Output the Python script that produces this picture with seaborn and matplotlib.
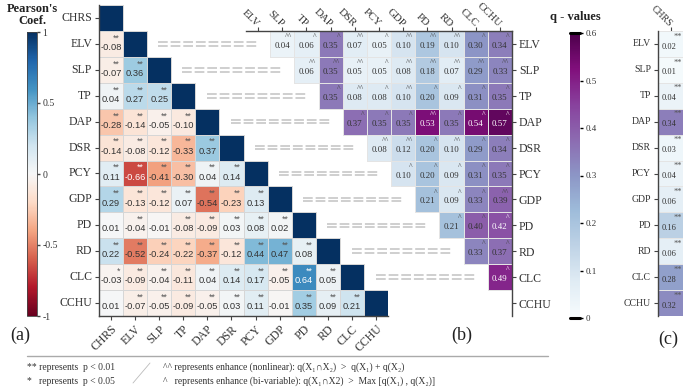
import numpy as np
import pandas as pd
import matplotlib
matplotlib.use("Agg")
import matplotlib.pyplot as plt
import matplotlib.colors as mcolors
import seaborn as sns

# ===== Data =====
variables = ["CHRS", "ELV", "SLP", "TP", "DAP", "DSR", "PCY", "GDP", "PD", "RD", "CLC", "CCHU"]

# (a) Pearson coefficients, lower triangle (row i, columns 0..i-1)
pearson_rows = [
    [-0.08],
    [-0.07, 0.36],
    [0.04, 0.27, 0.25],
    [-0.28, -0.14, -0.05, -0.10],
    [-0.14, -0.08, -0.12, -0.33, 0.37],
    [0.11, -0.66, -0.41, -0.30, 0.04, 0.14],
    [0.29, -0.13, -0.12, 0.07, -0.54, -0.23, 0.13],
    [0.01, -0.04, -0.01, -0.08, -0.09, 0.03, 0.08, 0.02],
    [0.22, -0.52, -0.24, -0.22, -0.37, -0.12, 0.44, 0.47, 0.08],
    [-0.03, -0.09, -0.04, -0.11, 0.04, 0.14, 0.17, -0.05, 0.64, 0.05],
    [0.01, -0.07, -0.05, -0.09, -0.05, 0.03, 0.11, -0.01, 0.35, 0.09, 0.21],
]
pearson_sig = [
    ["**"],
    ["**", "**"],
    ["**"] * 3,
    ["**"] * 4,
    ["**"] * 5,
    ["**"] * 6,
    ["**"] * 7,
    ["", "**", "", "**", "**", "**", "**", "**"],
    ["**"] * 9,
    ["*"] + ["**"] * 9,
    ["", "**", "**", "**", "**", "**", "**", "", "**", "**", "**"],
]

# (b) interaction q-values, upper triangle (row i, columns i+1..)
q_vars = variables[1:]
q_rows = [
    [0.04, 0.06, 0.35, 0.07, 0.05, 0.10, 0.19, 0.10, 0.30, 0.34],
    [0.06, 0.35, 0.05, 0.05, 0.08, 0.18, 0.07, 0.29, 0.33],
    [0.35, 0.08, 0.08, 0.10, 0.20, 0.09, 0.31, 0.35],
    [0.37, 0.35, 0.35, 0.53, 0.35, 0.54, 0.57],
    [0.08, 0.12, 0.20, 0.10, 0.29, 0.34],
    [0.10, 0.20, 0.09, 0.31, 0.35],
    [0.21, 0.09, 0.33, 0.39],
    [0.21, 0.40, 0.42],
    [0.33, 0.37],
    [0.49],
]
q_marks = [
    ["^^", "^", "^", "^^", "^", "^^", "^^", "^^", "^", "^"],
    ["^^", "^^", "^^", "^", "^^", "^^", "^^", "^^", "^^"],
    ["^", "^^", "^", "^^", "^", "^", "^", "^"],
    ["^", "^", "^", "^^", "^", "^", "^"],
    ["^^", "^^", "^", "^^", "^", "^"],
    ["^", "^", "^", "^", "^"],
    ["^", "^", "^", "^^"],
    ["^", "^", "^"],
    ["^", "^"],
    ["^"],
]

# (c) single-factor q-values of CHRS
q_chrs = [0.02, 0.01, 0.04, 0.34, 0.03, 0.04, 0.06, 0.16, 0.06, 0.28, 0.32]
q_chrs_sig = ["**"] * 11

# ===== Style =====
sns.set_theme(style="white")
plt.rcParams["font.family"] = ["Liberation Serif", "DejaVu Serif"]
plt.rcParams["axes.unicode_minus"] = False

W, H = 685, 387
fig = plt.figure(figsize=(6.85, 3.87), dpi=100)


def box(x0, y0, x1, y1):
    return [x0 / W, 1 - y1 / H, (x1 - x0) / W, (y1 - y0) / H]


def edges_only_on_data(ax, data, color):
    # keep cell borders only around cells that hold a value
    mesh = ax.collections[0]
    empty = np.isnan(np.asarray(data, dtype=float)).ravel()
    ec = np.tile(mcolors.to_rgba(color), (empty.size, 1))
    ec[empty] = (0, 0, 0, 0)
    mesh.set_edgecolor(ec)


ax_a = fig.add_axes(box(99, 5, 388, 316))
cax_a = fig.add_axes(box(27, 32, 37, 316))
ax_b = fig.add_axes(box(246, 31, 512, 316))
cax_b = fig.add_axes(box(570, 33, 580, 318))
ax_c = fig.add_axes(box(658, 31, 683, 316))

spine_col = "#444444"

# ===== (a) Pearson heatmap =====
n = len(variables)
corr = np.full((n, n), np.nan)
corr[0, 0] = 1.0
for i, row in enumerate(pearson_rows, start=1):
    corr[i, :i] = row
    corr[i, i] = 1.0
df_a = pd.DataFrame(corr, index=variables, columns=variables)

sns.heatmap(df_a, ax=ax_a, cmap="RdBu", vmin=-1, vmax=1, cbar_ax=cax_a,
            linewidths=0.6, linecolor="#d6d6d6")
edges_only_on_data(ax_a, corr, "#d6d6d6")
ax_a.set_facecolor("none")

for i, row in enumerate(pearson_rows, start=1):
    for j, v in enumerate(row):
        col = "white" if abs(v) > 0.6 else "#333333"
        ax_a.text(j + 0.5, i + 0.64, f"{v:.2f}", ha="center", va="center",
                  fontsize=6.7, family="Liberation Sans", color=col)
        s = pearson_sig[i - 1][j]
        if s:
            ax_a.text(j + 0.86, i + 0.1, s, ha="right", va="top", fontsize=6.3,
                      family="Liberation Sans",
                      color="white" if abs(v) > 0.6 else "#555555")

ax_a.set_xlabel("")
ax_a.set_ylabel("")
for side in ["left", "bottom"]:
    ax_a.spines[side].set_visible(True)
    ax_a.spines[side].set_color(spine_col)
    ax_a.spines[side].set_linewidth(1)
ax_a.tick_params(left=True, bottom=True, length=3, width=0.8, color=spine_col,
                 labelsize=8.5, labelcolor="#333333", pad=2)
ax_a.set_yticklabels(variables, rotation=0)
ax_a.set_xticklabels(variables, rotation=45, ha="right", rotation_mode="anchor")

cbar_a = ax_a.collections[0].colorbar
cbar_a.set_ticks([-1, -0.5, 0, 0.5, 1])
cbar_a.set_ticklabels(["-1", "-0.5", "0", "0.5", "1"])
cax_a.tick_params(right=True, length=2, width=1, labelsize=7, color=spine_col,
                  labelcolor="#333333", pad=2)
cbar_a.outline.set_linewidth(0.6)
cbar_a.outline.set_edgecolor(spine_col)

# ===== (b) interaction q-values =====
m = len(q_vars)
qmat = np.full((m, m), np.nan)
for i, row in enumerate(q_rows):
    qmat[i, i + 1:i + 1 + len(row)] = row
df_b = pd.DataFrame(qmat, index=q_vars, columns=q_vars)

sns.heatmap(df_b, ax=ax_b, cmap="BuPu", vmin=0, vmax=0.6, cbar_ax=cax_b,
            linewidths=0.6, linecolor="#e4e4e4")
edges_only_on_data(ax_b, qmat, "#e4e4e4")
ax_b.set_facecolor("none")

for i, row in enumerate(q_rows):
    for k, v in enumerate(row):
        j = i + 1 + k
        col = "white" if v > 0.41 else "#333333"
        ax_b.text(j + 0.5, i + 0.58, f"{v:.2f}", ha="center", va="center",
                  fontsize=6.4, color=col)
        ax_b.text(j + 0.9, i + 0.08, q_marks[i][k], ha="right", va="top",
                  fontsize=5.5, color="white" if v > 0.41 else "#444444")

# gray double-dash bands in the empty lower part
for r in range(len(q_rows)):
    x1 = r + 0.5
    x0 = x1 - 4.13
    for dy in (-0.07, 0.07):
        ax_b.plot([x0, x1], [r + 0.5 + dy] * 2, color="#cfcfcf", lw=1.4,
                  linestyle=(0, (5, 1.5)), clip_on=False)

ax_b.set_xlabel("")
ax_b.set_ylabel("")
ax_b.xaxis.tick_top()
ax_b.yaxis.tick_right()
for side in ["top", "right"]:
    ax_b.spines[side].set_visible(True)
    ax_b.spines[side].set_color(spine_col)
    ax_b.spines[side].set_linewidth(1)
for side in ["left", "bottom"]:
    ax_b.spines[side].set_visible(False)
ax_b.tick_params(top=True, right=True, bottom=False, left=False, length=3,
                 width=0.8, color=spine_col, labelsize=8.5,
                 labelcolor="#333333", pad=2)
ax_b.tick_params(axis="x", labelsize=7.8, pad=1)
ax_b.set_yticklabels(q_vars, rotation=0)
ax_b.set_xticklabels(q_vars, rotation=-45, ha="right", va="center",
                     rotation_mode="anchor")

cbar_b = ax_b.collections[0].colorbar
cbar_b.set_ticks([0, 0.1, 0.2, 0.3, 0.4, 0.5, 0.6])
cbar_b.set_ticklabels(["0", "0.1", "0.2", "0.3", "0.4", "0.5", "0.6"])
cax_b.tick_params(right=True, length=2, width=1, labelsize=6.5, color="black",
                  labelcolor="#333333", pad=2)
cbar_b.outline.set_visible(False)
for yv in (0, 0.6):
    cax_b.axhline(yv, color="black", lw=2.2, clip_on=False)

# ===== (c) CHRS single-factor q-values =====
df_c = pd.DataFrame({"CHRS": q_chrs}, index=q_vars)
sns.heatmap(df_c, ax=ax_c, cmap="BuPu", vmin=0, vmax=0.6, cbar=False,
            linewidths=0.6, linecolor="#e4e4e4")
for i, v in enumerate(q_chrs):
    ax_c.text(0.45, i + 0.6, f"{v:.2f}", ha="center", va="center", fontsize=6,
              color="#333333")
    ax_c.text(0.95, i + 0.06, q_chrs_sig[i], ha="right", va="top", fontsize=6,
              color="#555555")
ax_c.set_xlabel("")
ax_c.set_ylabel("")
ax_c.xaxis.tick_top()
ax_c.spines["left"].set_visible(True)
ax_c.spines["left"].set_color(spine_col)
ax_c.spines["left"].set_linewidth(1)
ax_c.tick_params(top=True, left=True, bottom=False, length=3, width=0.8,
                 color=spine_col, labelsize=7, labelcolor="#333333", pad=2)
ax_c.tick_params(axis="x", pad=1)
ax_c.set_yticklabels(q_vars, rotation=0)
ax_c.set_xticklabels(["CHRS"], rotation=-45, ha="right", va="center",
                     rotation_mode="anchor")

# ===== Titles, panel labels, legend notes =====
fig.text(32 / W, 1 - 3 / H, "Pearson's\nCoef.", ha="center", va="top",
         fontsize=9, weight="bold", linespacing=1.0, color="#222222")
fig.text(575 / W, 1 - 17 / H, "q - values", ha="center", va="center",
         fontsize=9, weight="bold", color="#222222")

for lab, x, y in [("(a)", 20, 335), ("(b)", 462, 335), ("(c)", 668, 339)]:
    fig.text(x / W, 1 - y / H, lab, ha="center", va="center", fontsize=13,
             color="#222222")

fig.add_artist(plt.Line2D([27 / W, 548 / W], [1 - 356 / H] * 2,
                          color="#aaaaaa", lw=1))
fig.add_artist(plt.Line2D([133 / W, 150 / W], [1 - 383 / H, 1 - 363 / H],
                          color="#bbbbbb", lw=0.6))

note_kw = dict(fontsize=6.9, va="center", ha="left", color="#333333",
               family=["Liberation Serif", "DejaVu Serif"])
fig.text(27 / W, 1 - 367 / H, "** represents  p < 0.01", **note_kw)
fig.text(27 / W, 1 - 381 / H, "*   represents  p < 0.05", **note_kw)
fig.text(163 / W, 1 - 367 / H,
         "^^ represents enhance (nonlinear): q(X\u2081\u2229X\u2082)  >  q(X\u2081) + q(X\u2082)",
         **note_kw)
fig.text(163 / W, 1 - 381 / H,
         "^   represents enhance (bi-variable): q(X\u2081\u2229X2)  >  Max [q(X\u2081) , q(X\u2082)]",
         **note_kw)

plt.savefig("out.png", dpi=100)
